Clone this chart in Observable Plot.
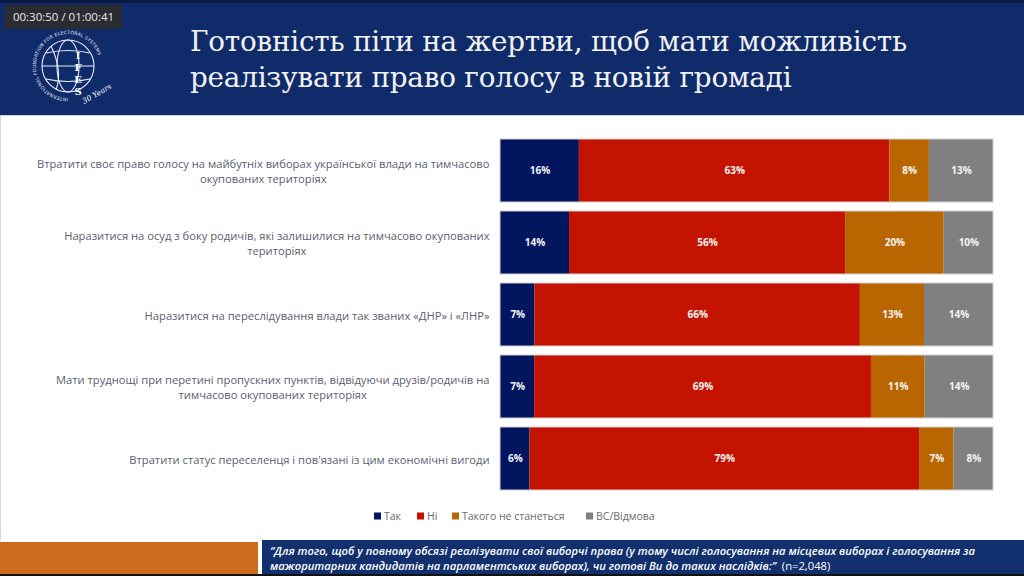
<!DOCTYPE html>
<html>
<head>
<meta charset="utf-8">
<script src="https://cdn.jsdelivr.net/npm/d3@7"></script>
<script src="https://cdn.jsdelivr.net/npm/@observablehq/plot@0.6"></script>
<style>
  html, body { margin: 0; padding: 0; background: #ffffff; }
  #page { position: relative; width: 1024px; height: 576px; overflow: hidden; background: #fff; }
  #header { position: absolute; left: 0; top: 0; width: 1024px; height: 115px; background: #102b6a; border-top: 3px solid #0a1a45; box-sizing: border-box; }
  #headline { position: absolute; left: 0; top: 115px; width: 1024px; height: 1px; background: #cfd3dc; }
  #leftline { position: absolute; left: 0; top: 116px; width: 1px; height: 424px; background: #d6d6d6; }
  #title { position: absolute; left: 190px; top: 24px; color: #f2f2f2; font-family: "DejaVu Serif", "Liberation Serif", serif; font-size: 27.8px; line-height: 36px; white-space: nowrap; letter-spacing: -0.2px; }
  #logo { position: absolute; left: 28px; top: 24px; width: 92px; height: 86px; }
  #stamp { position: absolute; left: 5px; top: 5px; width: 117px; height: 24px; background: rgba(45,45,45,0.92); color: #eaeaea; font-family: "Open Sans", "DejaVu Sans", sans-serif; font-size: 11.5px; line-height: 24px; text-align: center; }
  #chart { position: absolute; left: 0; top: 120px; }
  #legend { position: absolute; left: 0; top: 508px; width: 1024px; height: 16px; }
  #footL { position: absolute; left: 0; top: 542px; width: 258px; height: 32px; background: #cc6a1e; }
  #footR { position: absolute; left: 262px; top: 540px; width: 762px; height: 34px; background: #12306e; overflow: hidden; }
  #footText { position: absolute; left: 8px; top: 3px; color: #ffffff; font-family: "Open Sans", sans-serif; font-size: 11.5px; font-style: italic; font-weight: 600; line-height: 15px; white-space: nowrap; transform-origin: 0 0; }
  #footText .line { display: block; }
  #footText .inner { display: inline-block; }
  #footText .n { font-style: normal; font-weight: normal; }
  #bottom { position: absolute; left: 0; top: 574px; width: 1024px; height: 2px; background: #111; }
</style>
</head>
<body>
<div id="page">
  <div id="header"></div>
  <svg id="logo" viewBox="0 0 92 86">
    <defs>
      <path id="ring" d="M 40 74 A 32 32 0 1 1 72 42"/>
    </defs>
    <text fill="#e8ecf5" font-family="DejaVu Sans, sans-serif" font-size="4.6" letter-spacing="0.2">
      <textPath href="#ring">INTERNATIONAL FOUNDATION FOR ELECTORAL SYSTEMS</textPath>
    </text>
    <g fill="none" stroke="#e8ecf5" stroke-width="1.1">
      <circle cx="40" cy="42" r="26"/>
      <ellipse cx="40" cy="42" rx="11" ry="26"/>
      <line x1="14" y1="42" x2="66" y2="42"/>
      <path d="M18 29 Q40 24 62 29"/>
      <path d="M18 55 Q40 60 62 55"/>
      <path d="M23 22 Q35 47 28 66"/>
    </g>
    <g fill="#fff" font-family="DejaVu Serif, serif" font-weight="bold" font-size="10" text-anchor="middle">
      <text x="50" y="35">I</text>
      <text x="50" y="47">F</text>
      <text x="50" y="59">E</text>
      <text x="50" y="71">S</text>
    </g>
    <text x="56" y="80" fill="#fff" font-family="DejaVu Serif, serif" font-style="italic" font-size="7.5" transform="rotate(-30 56 80)">30 Years</text>
  </svg>
  <div id="stamp">00:30:50 / 01:00:41</div>
  <div id="title">Готовність піти на жертви, щоб мати можливість<br>реалізувати право голосу в новій громаді</div>
  <div id="headline"></div>
  <div id="leftline"></div>
  <div id="chart"></div>
  <div id="legend"></div>
  <div id="footL"></div>
  <div id="footR"><div id="footText"><span class="line"><span class="inner" id="fl1">“Для того, щоб у повному обсязі реалізувати свої виборчі права (у тому числі голосування на місцевих виборах і голосування за</span></span><span class="line"><span class="inner">мажоритарних кандидатів на парламентських виборах), чи готові Ви до таких наслідків:” <span class="n">&nbsp;(n=2,048)</span></span></span></div></div>
  <div id="bottom"></div>
</div>
<script>
// ---- Data ----
const categories = [
  "Втратити своє право голосу на майбутніх виборах української влади на тимчасово\nокупованих територіях",
  "Наразитися на осуд з боку родичів, які залишилися на тимчасово окупованих\nтериторіях",
  "Наразитися на переслідування влади так званих «ДНР» і «ЛНР»",
  "Мати труднощі при перетині пропускних пунктів, відвідуючи друзів/родичів на\nтимчасово окупованих територіях",
  "Втратити статус переселенця і пов'язані із цим економічні вигоди"
];
const seriesNames = ["Так", "Ні", "Такого не станеться", "ВС/Відмова"];
const yes        = [16, 14, 7, 7, 6];
const no         = [63, 56, 66, 69, 79];
const wontHappen = [8, 20, 13, 11, 7];
const dkRefuse   = [13, 10, 14, 14, 8];
const colors = ["#021660", "#c41300", "#b96500", "#808080"];

const seriesValues = [yes, no, wontHappen, dkRefuse];
const rows = [];
categories.forEach((c, i) => {
  seriesNames.forEach((s, j) => rows.push({category: c, series: s, value: seriesValues[j][i]}));
});

// ---- Label measurement for Excel-style centered-block, right-aligned labels ----
const labelSize = 11.2;
const ctx = document.createElement("canvas").getContext("2d");
ctx.font = `${labelSize}px 'Open Sans'`;
const labelWidths = categories.map(c => d3.max(c.split("\n"), l => ctx.measureText(l).width));
const gap = 11;

const chart = Plot.plot({
  width: 1024,
  height: 380,
  marginLeft: 500,
  marginRight: 31,
  marginTop: 14,
  marginBottom: 6,
  x: {domain: [0, 1], axis: null},
  y: {domain: categories, axis: null, paddingInner: 0.125, paddingOuter: 0.0625},
  color: {domain: seriesNames, range: colors},
  style: {fontFamily: "'Open Sans', sans-serif", background: "transparent"},
  marks: [
    Plot.barX(rows, Plot.stackX({
      x: "value", y: "category", fill: "series", order: seriesNames, offset: "normalize"
    })),
    Plot.barX(categories, {x1: () => 0, x2: () => 1, y: d => d, fill: "none", stroke: "#d0d0d0", strokeWidth: 1}),
    Plot.text(rows, Plot.stackX({
      x: "value", y: "category", order: seriesNames, offset: "normalize",
      z: "series",
      text: d => d.value + "%",
      fill: "#f4f4f4", fontWeight: "bold", fontSize: 10, fontFamily: "'Open Sans', sans-serif"
    })),
    ...categories.map((c, i) => Plot.text([c], {
      y: d => d, text: d => d, frameAnchor: "left",
      textAnchor: "middle", dx: -(gap + labelWidths[i] / 2),
      lineAnchor: "middle", lineHeight: 1.34,
      fill: "#5a6070", fontSize: labelSize, fontFamily: "'Open Sans', sans-serif"
    }))
  ]
});
document.getElementById("chart").appendChild(chart);

// ---- Legend ----
const legendSvg = d3.select("#legend").append("svg").attr("width", 1024).attr("height", 16);
const legendX = [374, 417, 452, 586];
seriesNames.forEach((s, j) => {
  const g = legendSvg.append("g").attr("transform", `translate(${legendX[j]},0)`);
  g.append("rect").attr("x", 0).attr("y", 4.5).attr("width", 7).attr("height", 7).attr("fill", colors[j]);
  g.append("text").attr("x", 10).attr("y", 12).attr("fill", "#6a6a6a")
    .attr("font-family", "'Open Sans', sans-serif")
    .attr("font-size", 10.5).text(s);
});

// ---- Fit footer text width to the reference (~705px for line 1) ----
const fl1 = document.getElementById("fl1");
const w1 = fl1.getBoundingClientRect().width;
const sx = 705 / w1;
document.getElementById("footText").style.transform = `scaleX(${sx})`;
</script>
</body>
</html>
